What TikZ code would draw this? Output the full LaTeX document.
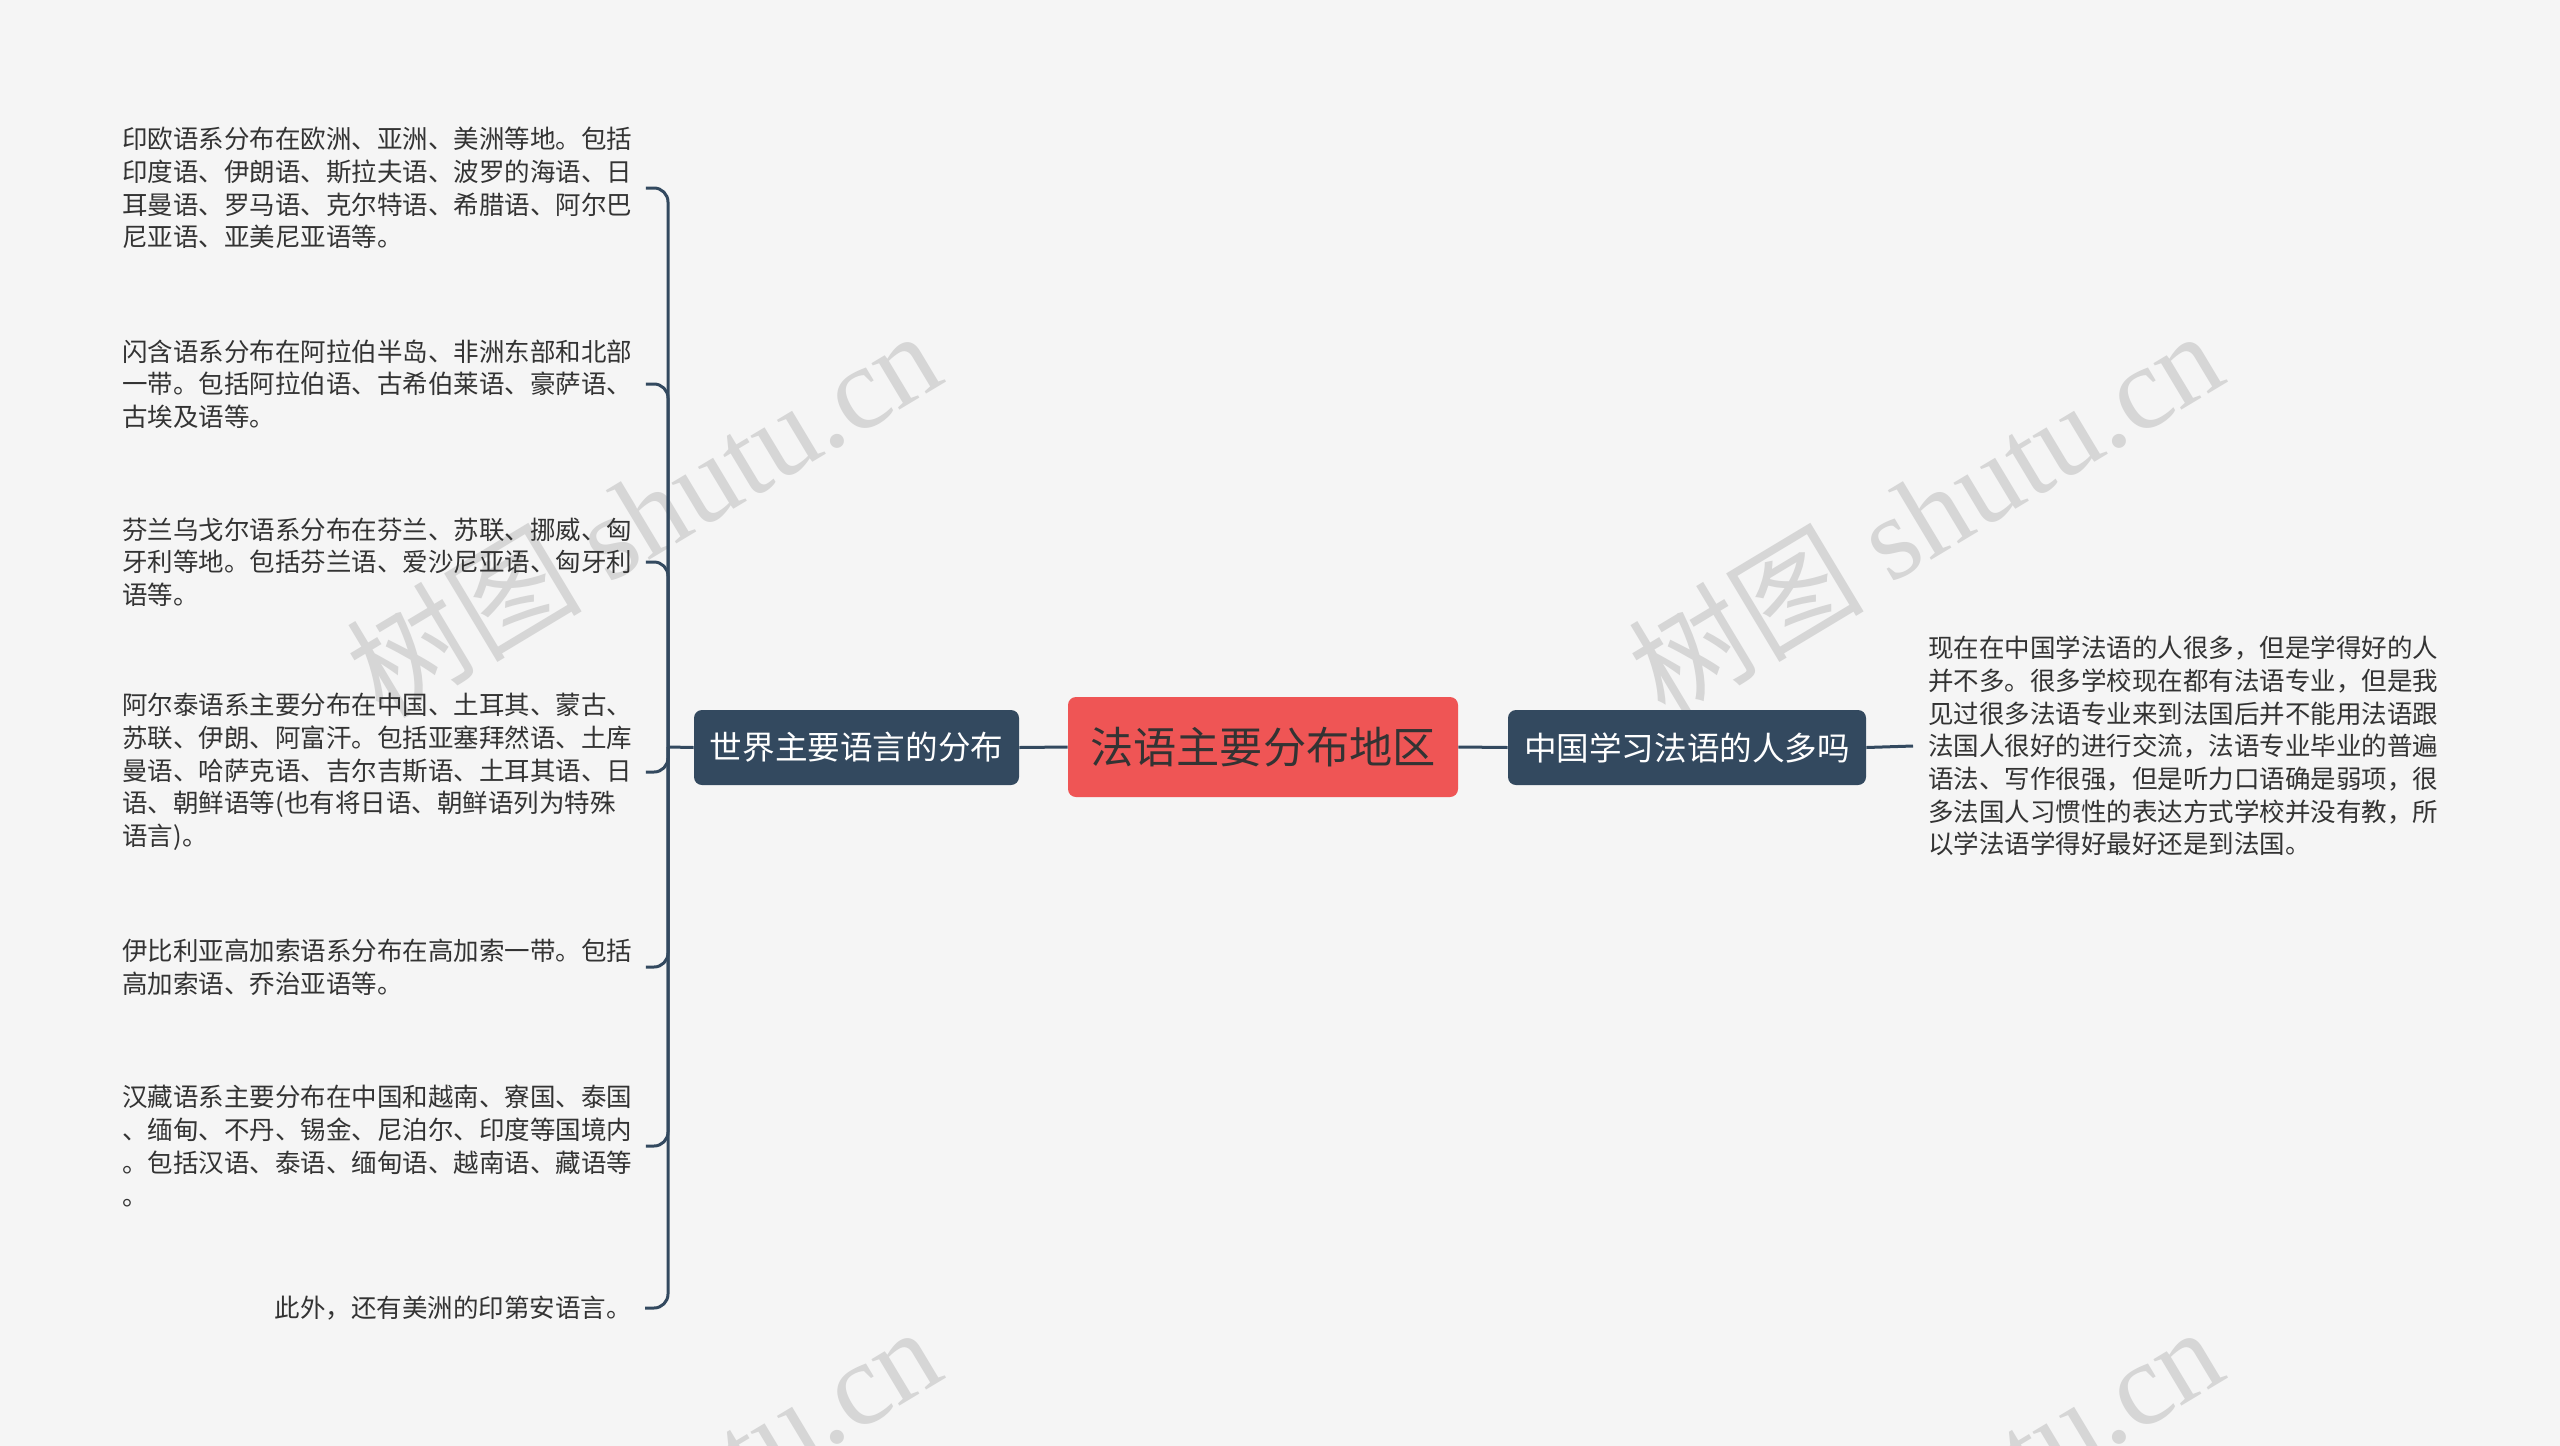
\documentclass[tikz,border=0pt]{standalone}
\usepackage{fontspec}
\setmainfont{Noto Sans CJK SC}
\newfontfamily\wmlatin{Liberation Serif}
\definecolor{bg}{HTML}{F5F5F5}
\definecolor{navy}{HTML}{33495F}
\definecolor{redbox}{HTML}{EF5555}
\definecolor{txt}{HTML}{333333}
\definecolor{wmgray}{HTML}{D6D6D6}
\begin{document}
\begin{tikzpicture}[x=0.5pt,y=-0.5pt,
  conn/.style={draw=navy, line width=1.5pt},
  brace/.style={conn, rounded corners=7pt},
  leaf/.style={inner sep=0pt, align=left, text=txt, font=\fontsize{12.75pt}{16.35pt}\selectfont},
  topic/.style={fill=navy, rounded corners=4pt, text=white, font=\fontsize{16.3pt}{19pt}\selectfont, minimum height=37.5pt, inner sep=0pt},
  rootbox/.style={fill=redbox, rounded corners=4pt, text=txt, font=\fontsize{21.6pt}{25pt}\selectfont, minimum height=50pt, minimum width=195pt, inner sep=0pt},
  wm/.style={text=wmgray, font=\fontsize{59pt}{66pt}\selectfont, rotate=31, inner sep=0pt}
]
\fill[bg] (0,0) rectangle (2560,1446);
\useasboundingbox (0,0) rectangle (2560,1446);
\begin{scope}
\clip (0,0) rectangle (2560,1446);
\node[wm] (wm1) at (643,512) {树图 {\wmlatin shutu.cn}};
\node[wm] (wm2) at (1925,512) {树图 {\wmlatin shutu.cn}};
\node[wm] (wm3) at (643,1508) {树图 {\wmlatin shutu.cn}};
\node[wm] (wm4) at (1925,1508) {树图 {\wmlatin shutu.cn}};
\end{scope}

% central and main topics
\node[rootbox] (C) at (1263,747) {法语主要分布地区};
\node[topic, minimum width=162.5pt] (W) at (856.5,747.5) {世界主要语言的分布};
\node[topic, minimum width=179pt] (R) at (1687,747.5) {中国学习法语的人多吗};

% right leaf
\node[leaf, anchor=west] (RT) at (1928,746) {现在在中国学法语的人很多，但是学得好的人\\并不多。很多学校现在都有法语专业，但是我\\见过很多法语专业来到法国后并不能用法语跟\\法国人很好的进行交流，法语专业毕业的普遍\\语法、写作很强，但是听力口语确是弱项，很\\多法国人习惯性的表达方式学校并没有教，所\\以学法语学得好最好还是到法国。};

% left leaves
\node[leaf, anchor=west] (B1) at (122,188) {印欧语系分布在欧洲、亚洲、美洲等地。包括\\印度语、伊朗语、斯拉夫语、波罗的海语、日\\耳曼语、罗马语、克尔特语、希腊语、阿尔巴\\尼亚语、亚美尼亚语等。};
\node[leaf, anchor=west] (B2) at (122,384) {闪含语系分布在阿拉伯半岛、非洲东部和北部\\一带。包括阿拉伯语、古希伯莱语、豪萨语、\\古埃及语等。};
\node[leaf, anchor=west] (B3) at (122,562) {芬兰乌戈尔语系分布在芬兰、苏联、挪威、匈\\牙利等地。包括芬兰语、爱沙尼亚语、匈牙利\\语等。};
\node[leaf, anchor=west] (B4) at (122,772) {阿尔泰语系主要分布在中国、土耳其、蒙古、\\苏联、伊朗、阿富汗。包括亚塞拜然语、土库\\曼语、哈萨克语、吉尔吉斯语、土耳其语、日\\语、朝鲜语等(也有将日语、朝鲜语列为特殊\\语言)。};
\node[leaf, anchor=west] (B5) at (122,967) {伊比利亚高加索语系分布在高加索一带。包括\\高加索语、乔治亚语等。};
\node[leaf, anchor=west] (B6) at (122,1146) {汉藏语系主要分布在中国和越南、寮国、泰国\\、缅甸、不丹、锡金、尼泊尔、印度等国境内\\。包括汉语、泰语、缅甸语、越南语、藏语等\\。};
\node[leaf, anchor=east] (B7) at (632,1308) {此外，还有美洲的印第安语言。};

% connectors
\coordinate (hub) at (668,747);
\draw[conn] (C.west) -- (W.east);
\draw[conn] (C.east) -- (R.west);
\draw[conn] (R.east) -- ([xshift=-7.5pt]RT.west);
\draw[conn] (W.west) -- (hub);
\foreach \b in {B1,B2,B3,B4,B5,B6,B7}{
  \draw[brace] (hub) |- ([xshift=6.5pt]\b.east);
}
\end{tikzpicture}
\end{document}
